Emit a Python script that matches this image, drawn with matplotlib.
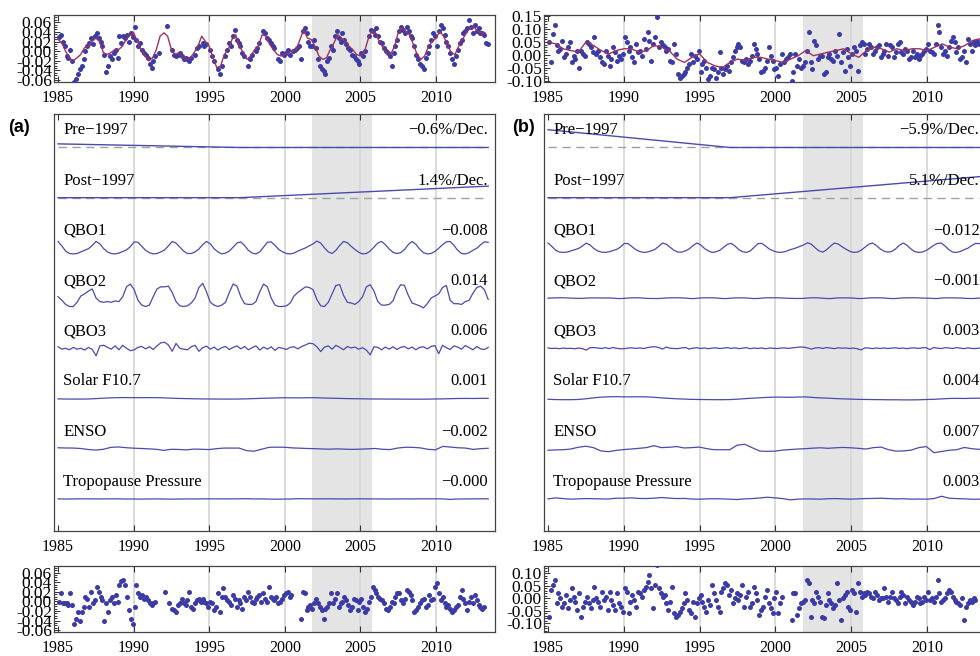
import numpy as np
import matplotlib
matplotlib.use('Agg')
import matplotlib.pyplot as plt
from matplotlib.ticker import MultipleLocator

plt.rcParams['font.family'] = ['Liberation Serif', 'DejaVu Serif']
plt.rcParams['axes.unicode_minus'] = True
plt.rcParams['axes.edgecolor'] = '#444444'
plt.rcParams['axes.linewidth'] = 0.9

nan = np.nan

# ---------------- datos ----------------
# anomalias de ozono (en milesimas), 4 muestras por semestre, 1985.0 - 2013.5
anom_a = np.array([
    30, 34, 20, 10, -10, -14, 3, -20,
    -65, -58, -48, -37, -31, -17, 0, 10,
    17, 27, 14, 31, 38, 27, 20, 10,
    -7, -44, -31, -10, -17, -3, 3, -14,
    31, 17, 31, 27, 34, 20, 38, 30,
    51, 24, 10, 17, 3, -3, -7, -14,
    -27, -34, -20, -10, nan, -3, nan, nan,
    nan, 52, nan, nan, 3, -7, -10, -7,
    -3, -10, -17, -14, -17, -20, -14, nan,
    -7, 7, 10, nan, 17, 10, 14, nan,
    3, -10, -20, nan, -38, -48, -31, nan,
    -10, 3, 17, 10, 31, 44, 24, 17,
    10, -3, -10, nan, -31, -17, -7, nan,
    0, 7, 17, nan, 41, 38, 27, 24,
    17, 10, 7, nan, -17, -20, -3, -7,
    -3, 3, -7, nan, 0, 3, 7, 10,
    -17, 41, 48, 38, 20, 10, 10, 24,
    7, -17, -31, -38, -41, -48, -20, -14,
    10, 3, 31, 41, 27, 20, 38, 24,
    14, 7, 3, -7, -10, -17, -20, -27,
    -3, -10, 0, nan, 31, 44, 41, 34,
    48, 31, 20, 17, 7, 0, -3, -10,
    -31, -3, 10, 24, 41, 51, 44, 38,
    51, 41, 31, 27, 10, -7, -17, -27,
    -31, -38, -14, -3, 10, 24, 38, 31,
    10, 41, 55, 48, 34, 20, 10, -3,
    -17, -27, -10, 3, 17, 24, 38, 41,
    48, 65, 51, 38, 55, 41, 48, 38,
    38, 34, 17, 14]) / 1000

anom_b = np.array([
    50, -29, 83, 116, 37, 17, 24, 56,
    -9, 4, 30, 50, -29, -3, -16, 17,
    -49, 17, 4, -3, 50, 43, 30, 11,
    70, 4, 17, -9, -29, -35, 17, -3,
    -42, -16, 30, 11, -22, -3, -16, 4,
    70, 50, 17, 30, -9, -29, 43, 11,
    17, -3, 63, 24, 89, 56, -22, 43,
    70, 148, 30, 50, 37, 30, 17, 24,
    -22, -29, 43, 4, -75, -88, -81, -75,
    -68, -49, -35, 4, -29, -3, -16, 17,
    -68, -35, -22, -49, -95, -81, -49, -55,
    -88, -68, 11, -49, -75, -55, -42, -62,
    -29, -9, 17, 30, 43, 30, -22, -29,
    -16, -35, -22, -3, 43, 24, 4, -16,
    -68, -62, -49, -22, 30, -3, -22, -55,
    -49, -81, -35, 4, -29, -16, -9, 4,
    -100, -68, 4, -42, -16, -49, -42, -29,
    17, 89, -29, -55, 56, 37, -16, -3,
    -3, -75, -68, -9, 4, -16, -22, 17,
    -3, 83, -29, 11, -62, 24, -9, -42,
    4, 30, 17, -62, 37, 50, 43, 4,
    24, 43, 30, 4, 17, 30, 37, -9,
    4, 17, 43, -3, 37, 30, -9, 11,
    43, 50, 11, 4, 24, 17, -16, -9,
    17, -9, 4, -16, -3, 4, 17, 24,
    43, 17, 11, 4, 43, 116, 89, 30,
    4, 17, -3, 30, 56, 70, 50, 11,
    30, -16, -9, 17, -29, 63, 43, 17,
    50, 37, 56, 43]) / 1000

# residuos
resid_a = np.array([
    -1, 17, -4, -3, -4, -8, 17, -8,
    -47, -36, -22, -40, -22, -11, 10, 6,
    -11, 20, -4, 3, 31, 20, 10, 3,
    -40, -4, -22, 3, 10, -4, 13, -1,
    35, 42, 45, 35, 10, -18, -36, -47,
    -11, 35, 17, 10, 13, 6, 10, 3,
    -4, -8, -4, -1, nan, nan, nan, nan,
    20, nan, -4, nan, -15, -18, -22, -8,
    -4, 6, -4, -8, 3, 20, -11, -15,
    -4, 3, 6, -1, 6, -1, -4, -11,
    -1, -4, -18, -11, 17, -22, 10, 28,
    10, 3, -1, -8, 13, 6, -11, 3,
    -4, -15, 10, 3, 20, 10, -1, -4,
    6, 10, 13, -1, 17, 6, -1, 31,
    10, 6, 3, 10, -4, -1, 6, 13,
    17, 20, 10, 13, nan, nan, nan, nan,
    -36, 20, 17, -18, -11, -8, -15, -4,
    6, -4, -11, -18, -36, -15, -11, -4,
    17, -4, 6, 17, -11, -4, -1, 10,
    3, -8, -18, -11, 6, 3, -18, -1,
    6, -11, -22, -15, -1, 10, 31, 24,
    17, 10, 6, 3, -4, -15, -18, -11,
    -1, -4, 10, 17, 17, 3, -4, 6,
    24, 20, 13, 3, -22, -18, -11, -4,
    3, 6, -11, -8, 13, 3, 6, 31,
    38, 17, 3, 10, -4, -11, -8, -15,
    -22, -18, -11, -8, 10, 24, 6, -4,
    -18, -1, 10, -4, 13, 3, -8, -11,
    -15, -11, nan, nan]) / 1000

resid_b = np.array([
    -73, 33, 53, 73, -20, 20, 0, -33,
    -20, 13, -40, -7, 40, 7, -13, -47,
    20, -73, -33, -13, 7, -20, -40, -7,
    47, 0, -13, -33, 27, -7, 7, -47,
    27, -7, -27, -47, 20, -20, -33, -53,
    40, 27, -60, -13, 13, -7, -33, 27,
    20, 7, 33, 47, 67, 93, 40, -40,
    53, 133, 40, 20, 7, 13, -20, -47,
    -13, 47, -60, -73, -67, -53, -40, -20,
    20, -7, -47, -60, -13, -73, -20, 0,
    13, -13, -33, -53, -7, -27, 53, 20,
    -7, -33, -53, 27, 40, 60, 53, 13,
    33, -20, 0, 20, -7, 13, 53, -33,
    7, 27, -33, -20, 47, 20, -7, -67,
    -47, -33, 7, 33, -20, -40, -60, 0,
    27, -60, -20, 7, nan, nan, nan, nan,
    -87, 20, 20, -67, -40, -20, -13, -7,
    73, 60, -73, -7, -20, 27, 7, -13,
    -73, -80, -27, 20, -7, -20, -40, -27,
    60, -7, -87, 0, 13, 27, -33, -47,
    33, 20, -53, 60, 27, 7, 20, 13,
    27, 20, 7, 0, 27, 13, -7, 0,
    0, 40, 7, -13, 7, 27, 0, -7,
    -20, 7, 27, 13, -20, 7, -7, -13,
    -27, -13, 7, 0, -20, -13, 7, -7,
    27, -7, 0, -13, 7, 73, 20, -13,
    -7, 0, 20, 33, 27, 7, -7, -13,
    -20, -27, 0, -87, -33, -20, -7, -13,
    0, -7, nan, nan]) / 1000

# ajuste completo del modelo (linea roja)
fit_a = np.array([
    24, 17, 0, -14, -20, -14, -7, 7,
    10, 20, 27, 20, -3, -7, -3, 3,
    3, 10, 24, 34, 38, 20, 3, -7,
    -20, -14, 3, 31, 38, 31, 3, -7,
    -3, -14, -17, -14, -3, 10, 31, 20,
    10, -14, -34, -31, -7, 3, 24, 34,
    10, -3, -17, -10, 3, 10, 34, 31,
    14, 3, -7, -10, -7, -3, 0, 3,
    24, 44, 27, 24, 10, -10, -17, -14,
    3, 17, 34, 27, 20, 10, 3, -7,
    -10, -3, 24, 41, 38, 20, 7, -3,
    -7, 10, 38, 48, 41, 34, 14, -7,
    -17, -10, 10, 20, 27, 41, 31, 14,
    -3, -7, 10, 24, 38, 48, 51, 41,
    38, 38]) / 1000

fit_b = np.array([
    50, 43, 24, 17, 11, 50, 37, 17, 4, 17,
    24, 24, 11, 17, 37, 30, 17, -16, -29, -9,
    4, -29, -42, -49, -29, -16, -22, -9, -9, -16,
    -22, -29, -16, -3, 17, -3, 4, 11, 17, 24,
    4, -9, 17, 30, 24, 11, 24, 17, 24, 24,
    17, 30, 43, 30, 24, 37, 56, 63]) / 1000

# regresores (indices normalizados), trimestrales
qbo1 = [
    -1.6, -0.5, 0.8, 1.4,
    1.5, 1.4, 1.0, 0.6,
    0.2, -0.6, -1.6, -1.0,
    0.2, 1.0, 1.4, 1.5,
    1.3, 0.9, 0.5, -0.3,
    -1.5, -1.4, -0.4, 0.6,
    1.2, 1.5, 1.4, 1.0,
    0.5, -0.5, -1.6, -1.2,
    -0.2, 0.8, 1.4, 1.4,
    1.0, 0.3, -0.8, -1.6,
    -1.0, 0.2, 1.0, 1.5,
    1.3, 0.8, -0.2, -1.2,
    -1.5, -0.6, 0.6, 1.3,
    1.5, 1.0, -0.2, -1.4,
    -1.5, -0.6, 0.4, 1.0,
    1.4, 1.5, 1.3, 0.8,
    0.4, 0.0, -0.5, -1.0,
    -1.7, -1.2, 0.0, 1.0,
    1.4, 0.6, -0.6, -1.6,
    -1.3, -0.4, 0.4, 1.1,
    1.5, 1.4, 0.8, -0.2,
    -1.2, -1.6, -0.8, 0.3,
    1.1, 1.4, 1.2, 0.4,
    -0.8, -1.6, -0.9, 0.3,
    1.2, 1.5, 1.4, 0.9,
    0.1, -0.8, -1.5, -1.6,
    -0.6, 0.6, 1.4, 1.5,
    1.2, 0.6, 0.1, -0.8,
    -1.5, -1.4]

qbo2 = [
    0.2, -0.3, -0.9, -1.2,
    -1.2, -0.6, 0.3, 0.6,
    1.0, 1.3, 0.0, -0.5,
    -0.6, -0.5, -0.6, -0.4,
    -0.5, 0.2, 1.6, 2.0,
    1.2, -0.3, -1.0, -1.2,
    -1.0, 0.2, 1.3, 1.6,
    1.6, 1.7, 0.8, -0.5,
    -1.1, -1.2, -1.1, -0.7,
    0.0, 1.5, 2.1, 0.9,
    -0.6, -1.0, -1.2, -1.0,
    -0.6, 0.8, 2.0, 1.7,
    0.2, -0.8, -0.9, -0.9,
    -0.5, 0.9, 2.0, 1.6,
    0.0, -1.0, -1.2, -1.2,
    -1.1, -0.7, 0.3, 0.8,
    1.2, 1.6, 1.5, 1.2,
    -0.2, -1.1, -1.2, -0.6,
    0.6, 1.8, 1.9, 0.4,
    -0.6, -0.7, -0.9, -0.5,
    0.2, 1.6, 1.9, 1.0,
    -0.5, -1.0, -1.0, -0.9,
    -0.4, 1.0, 1.9, 1.8,
    0.4, -0.7, -0.9, -1.1,
    -1.4, -0.8, 0.0, 0.3,
    0.6, 1.5, 1.8, -0.3,
    -0.8, -0.8, -0.9, -0.5,
    -0.3, 0.7, 1.5, 1.7,
    1.2, -0.2]

qbo3 = [
    0.5, -0.3, 0.0, -0.5,
    0.3, -0.3, 0.0, -0.6,
    0.3, -0.4, -2.5, 0.8,
    1.0, 0.3, -0.3, 0.8,
    -0.5, 1.0, 0.0, -0.8,
    -0.5, 0.3, 0.6, -0.2,
    0.5, -0.4, 0.8, 1.8,
    2.0, 1.1, -1.0, 1.6,
    0.0, -0.3, -0.5, 0.5,
    1.0, -1.0, 0.2, 0.7,
    -0.3, 0.4, -0.6, 0.2,
    0.6, -0.4, 0.3, 0.8,
    -0.2, 0.6, -0.5, 0.2,
    0.8, -0.6, 0.4, -0.3,
    0.5, -0.7, 0.3, 0.0,
    -0.4, 0.3, 0.5, -0.2,
    0.6, 1.1, 1.7, 1.5,
    0.5, -1.1, 0.4, 0.8,
    -0.3, 1.0, 0.3, -0.5,
    0.6, 0.1, 0.4, -0.3,
    0.2, -0.6, -2.2, 0.5,
    0.3, -0.5, 0.4, -0.3,
    0.5, -0.4, 0.3, 0.6,
    -0.2, 0.4, -0.5, 0.3,
    0.5, -0.2, 0.6, 0.9,
    -1.8, 1.0, 0.2, -0.4,
    0.8, 0.4, -0.3, 0.9,
    0.2, -0.5, 0.6, -0.2,
    -0.4, 0.3]

# regresores semestrales
solar = [
    -0.8, -1.1, -1.2, -1.2, -1.0, -0.3, 0.6, 1.3, 1.7, 1.8,
    1.6, 1.6, 1.7, 1.6, 1.2, 0.6, 0.1, -0.3, -0.6, -0.9,
    -1.0, -1.1, -1.2, -1.2, -1.1, -0.7, -0.2, 0.3, 0.7, 1.1,
    1.4, 1.3, 1.2, 1.4, 1.6, 1.0, 0.6, 0.3, -0.1, -0.4,
    -0.6, -0.9, -1.0, -1.1, -1.2, -1.3, -1.3, -1.4, -1.4, -1.3,
    -1.0, -0.8, -0.4, 0.0, 0.1, 0.0, 0.2, 0.3]

enso = [
    -0.9, -0.7, -0.6, -0.2, 0.8, 1.4, 0.6, -1.3, -1.7, -1.0,
    -0.5, -0.2, 0.2, 0.6, 1.7, 0.6, 0.8, 1.2, 0.4, 0.6,
    0.9, 0.0, -0.6, -0.6, -0.6, 2.0, 2.5, 0.5, -1.4, -1.5,
    -1.4, -0.8, -0.5, -0.2, 0.0, 0.3, 0.5, 0.2, 0.5, 0.7,
    0.5, 0.2, -0.2, 0.6, 0.9, -0.6, -1.4, -1.3, -0.8, 0.6,
    1.2, -2.3, -1.6, -0.9, -0.6, 0.7, 0.0, -0.4]

tropo = [
    0.0, 1.3, 0.4, -0.4, 0.0, 0.4, 0.2, 0.0, -0.2, 0.9,
    0.9, 1.3, 0.6, 0.4, 0.9, 1.8, 1.0, 0.4, 0.6, -0.2,
    -0.4, 0.0, 0.2, 0.0, -0.4, -0.9, 0.0, 0.4, 1.2, 2.2,
    1.3, 0.4, -1.3, -0.4, 0.0, -0.2, -0.4, 0.2, 0.4, 0.0,
    -0.4, 0.0, 0.4, 0.6, 0.9, 0.4, 0.0, 0.2, -0.4, -0.2,
    -0.4, 0.4, 3.5, 0.9, 0.4, 0.0, -0.4, -0.4]

etiquetas = ['Pre\u22121997', 'Post\u22121997', 'QBO1', 'QBO2', 'QBO3',
             'Solar F10.7', 'ENSO', 'Tropopause Pressure']
tend_a = [-0.6, 1.4]      # %/decada
tend_b = [-5.9, 5.1]
coef_a = [-0.008, 0.014, 0.006, 0.001, -0.002, -0.0003]
coef_b = [-0.012, -0.001, 0.003, 0.004, 0.007, 0.003]
texto_a = ['\u22120.6%/Dec.', '1.4%/Dec.', '\u22120.008', '0.014', '0.006',
           '0.001', '\u22120.002', '\u22120.000']
texto_b = ['\u22125.9%/Dec.', '5.1%/Dec.', '\u22120.012', '\u22120.001', '0.003',
           '0.004', '0.007', '0.003']

t_pts = 1985 + (np.arange(len(anom_a)) + 0.5) / 8
t_fit_a = 1985 + np.arange(len(fit_a)) / 4
t_fit_b = np.linspace(1985, 2013.5, len(fit_b))
t_q = np.linspace(1985, 2013.45, len(qbo1))
t_s = np.linspace(1985, 2013.45, len(solar))

azul = '#3b3ba8'
linea = '#4a4ab2'
rojo = '#a3305c'
gris = '#e4e4e4'
anios = [1985, 1990, 1995, 2000, 2005, 2010]

W, H = 980, 656


def caja(x0, y0, x1, y1):
    return [x0 / W, 1 - y1 / H, (x1 - x0) / W, (y1 - y0) / H]


def fondo(ax, xlim):
    ax.set_xlim(*xlim)
    ax.axvspan(2001.8, 2005.75, color=gris, lw=0, zorder=0)
    for a in anios[1:]:
        ax.axvline(a, color='#d6d6d6', lw=1.2, zorder=0.5)
    ax.set_xticks(anios)
    ax.tick_params(axis='x', direction='in', length=4, top=True, labelsize=11.5,
                   width=0.8, color='#333333', pad=6)
    ax.tick_params(axis='y', which='both', direction='in', width=0.7, color='#333333', pad=1.5)


def eje_y(ax, lim, marcas, menor):
    ax.set_ylim(*lim)
    ax.set_yticks(marcas)
    ax.set_yticklabels(['%.2f' % v for v in marcas], fontsize=12.5)
    ax.yaxis.set_minor_locator(MultipleLocator(menor))
    ax.tick_params(axis='y', which='major', length=4)
    ax.tick_params(axis='y', which='minor', length=2)


fig = plt.figure(figsize=(9.8, 6.56), dpi=100)

col = [(54, 495, (1984.735, 2013.9)), (544, 985, (1984.736, 2013.82))]
datos = [
    (anom_a, fit_a, t_fit_a, resid_a, (-0.064, 0.075), (-0.064, 0.074),
     [-0.06, -0.04, -0.02, 0.0, 0.02, 0.04, 0.06], [-0.06, -0.04, -0.02, 0.0, 0.02, 0.04, 0.06],
     0.005, 0.1, tend_a, coef_a, texto_a),
    (anom_b, fit_b, t_fit_b, resid_b, (-0.105, 0.155), (-0.135, 0.13),
     [-0.10, -0.05, 0.0, 0.05, 0.10, 0.15], [-0.10, -0.05, 0.0, 0.05, 0.10],
     0.01, 0.2, tend_b, coef_b, texto_b),
]

for (x0, x1, xlim), (anom, fit, t_fit, resid, yl_top, yl_bot, yt_top, yt_bot,
                     menor, fila, tend, coef, texto) in zip(col, datos):
    # panel superior: anomalias y ajuste
    ax = fig.add_axes(caja(x0, 15, x1, 82))
    fondo(ax, xlim)
    ax.scatter(t_pts, anom, s=13, color=azul, lw=0, zorder=3)
    ax.plot(t_fit, fit, color=rojo, lw=1.0, zorder=4)
    eje_y(ax, yl_top, yt_top, menor)

    # panel central: componentes del modelo
    ax = fig.add_axes(caja(x0, 114, x1, 531))
    fondo(ax, xlim)
    base = [-k * fila for k in range(8)]
    for k in range(2):
        ax.plot([1985, 2013.45], [base[k], base[k]], color='#a0a0a0', lw=1.0,
                dashes=(6, 4), zorder=2)
    pre = tend[0] / 100 * (1985 - 1997) / 10
    post = tend[1] / 100 * (2013.45 - 1997) / 10
    ax.plot([1985, 1997, 2013.45], [base[0] + pre, base[0], base[0]], color=linea, lw=1.0, zorder=3)
    ax.plot([1985, 1997, 2013.45], [base[1], base[1], base[1] + post], color=linea, lw=1.0, zorder=3)
    series = [(t_q, qbo1), (t_q, qbo2), (t_q, qbo3), (t_s, solar), (t_s, enso), (t_s, tropo)]
    for k, ((tt, idx), c) in enumerate(zip(series, coef)):
        ax.plot(tt, base[k + 2] + c * np.array(idx), color=linea, lw=0.9, zorder=3)
    for k in range(8):
        ax.text(1985.35, base[k] + 0.34 * fila, etiquetas[k], fontsize=12,
                ha='left', va='center', zorder=5)
        ax.text(2013.45, base[k] + 0.34 * fila, texto[k], fontsize=12,
                ha='right', va='center', zorder=5)
    ax.set_ylim(-7.64 * fila, 0.667 * fila)
    ax.set_yticks([])

    # panel inferior: residuos
    ax = fig.add_axes(caja(x0, 566, x1, 632))
    fondo(ax, xlim)
    ax.scatter(t_pts, resid, s=13, color=azul, lw=0, zorder=3)
    eje_y(ax, yl_bot, yt_bot, menor)

fig.text(8 / W, 1 - 128 / H, '(a)', fontsize=13, fontweight='bold',
         family='Liberation Sans', ha='left', va='center')
fig.text(512 / W, 1 - 127 / H, '(b)', fontsize=13, fontweight='bold',
         family='Liberation Sans', ha='left', va='center')

fig.savefig('out.png', dpi=100)
plt.close(fig)
print('Grafica guardada en out.png')
